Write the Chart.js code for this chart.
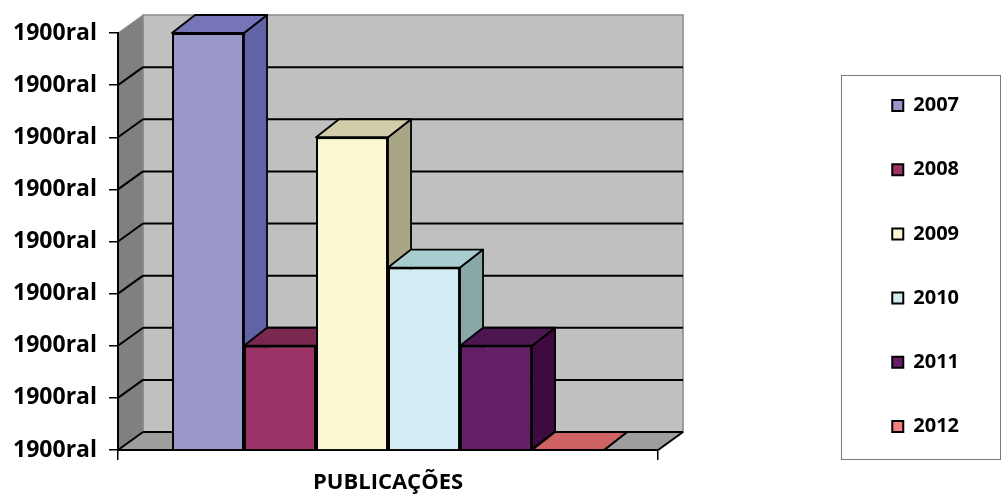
<!DOCTYPE html>
<html>
<head>
<meta charset="utf-8">
<script src="https://cdn.jsdelivr.net/npm/chart.js@4.4.1/dist/chart.umd.min.js"></script>
<style>html,body{margin:0;padding:0;background:#fff}canvas{display:block}</style>
</head>
<body>
<canvas id="c" width="1002" height="495"></canvas>
<script>
// ---- data ----
const categories = ['PUBLICAÇÕES'];
const seriesNames = ['2007', '2008', '2009', '2010', '2011', '2012'];
const seriesValues = [8, 2, 6, 3.5, 2, 0];
const yTickLabel = '1900ral';
const yMin = 0, yMax = 8, yStep = 1;

// ---- styles ----
const frontColors = ['#9A97CB', '#9B3366', '#FCF9D2', '#D3ECF4', '#661E66', '#F08080'];
const sideColors  = ['#6262A6', '#6E2248', '#A8A686', '#88A8A8', '#3E0A40', '#A85050'];
const topColors   = ['#7575B8', '#7B2850', '#D0CDA8', '#A8CCD0', '#4E1650', '#CF6262'];
const WALL_DX = 25, WALL_DY = 18, BAR_DX = 23, BAR_DY = 18;

Chart.defaults.font.family = "'Open Sans', 'DejaVu Sans', sans-serif";

function poly(ctx, pts, fill, stroke, lw) {
  ctx.beginPath();
  ctx.moveTo(pts[0][0], pts[0][1]);
  for (let i = 1; i < pts.length; i++) ctx.lineTo(pts[i][0], pts[i][1]);
  ctx.closePath();
  if (fill) { ctx.fillStyle = fill; ctx.fill(); }
  if (stroke) { ctx.strokeStyle = stroke; ctx.lineWidth = lw || 1; ctx.stroke(); }
}
function line(ctx, x1, y1, x2, y2) {
  ctx.beginPath(); ctx.moveTo(x1, y1); ctx.lineTo(x2, y2); ctx.stroke();
}

const threeD = {
  id: 'threeD',
  beforeDraw(chart) {
    const ctx = chart.ctx, a = chart.chartArea, y = chart.scales.y;
    const L = a.left, R = a.right, T = a.top, B = a.bottom;
    ctx.save();
    // back wall
    ctx.fillStyle = '#C0C0C0';
    ctx.fillRect(L + WALL_DX, T - WALL_DY, R - L, B - T);
    ctx.strokeStyle = '#8A8A8A'; ctx.lineWidth = 1.5;
    ctx.strokeRect(L + WALL_DX, T - WALL_DY, R - L, B - T);
    // left wall
    poly(ctx, [[L, T], [L + WALL_DX, T - WALL_DY], [L + WALL_DX, B - WALL_DY], [L, B]], '#808080', '#8A8A8A', 1);
    // floor
    poly(ctx, [[L, B], [L + WALL_DX, B - WALL_DY], [R + WALL_DX, B - WALL_DY], [R, B]], '#9E9E9E');
    // gridlines on back and side wall
    ctx.strokeStyle = '#000'; ctx.lineWidth = 2;
    y.ticks.forEach(t => {
      const py = y.getPixelForValue(t.value);
      if (t.value < yMax) {
        line(ctx, L + WALL_DX, py - WALL_DY, R + WALL_DX, py - WALL_DY);
        line(ctx, L, py, L + WALL_DX, py - WALL_DY);
      }
    });
    line(ctx, R, B, R + WALL_DX, B - WALL_DY);
    ctx.restore();
  },
  beforeDatasetsDraw(chart) {
    const ctx = chart.ctx;
    chart.data.datasets.forEach((ds, i) => {
      const meta = chart.getDatasetMeta(i);
      meta.data.forEach(el => {
        const p = el.getProps(['x', 'y', 'base', 'width'], true);
        const l = p.x - p.width / 2, r = p.x + p.width / 2;
        const top = Math.min(p.y, p.base), bot = Math.max(p.y, p.base);
        ctx.save();
        ctx.lineJoin = 'round';
        poly(ctx, [[r, top], [r + BAR_DX, top - BAR_DY], [r + BAR_DX, bot - BAR_DY], [r, bot]], sideColors[i], '#000', 1.8);
        poly(ctx, [[l, top], [l + BAR_DX, top - BAR_DY], [r + BAR_DX, top - BAR_DY], [r, top]], topColors[i], '#000', 1.8);
        ctx.restore();
        el.draw(ctx);
      });
    });
    return false;
  },
  afterDraw(chart) {
    const hb = chart.legend && chart.legend.legendHitBoxes;
    if (!hb || !hb.length) return;
    const ctx = chart.ctx;
    const first = hb[0], last = hb[hb.length - 1];
    const top = first.top - 21, bottom = last.top + last.height + 22;
    ctx.save();
    ctx.strokeStyle = '#7A7A7A'; ctx.lineWidth = 1;
    ctx.strokeRect(Math.round(first.left - 51) + 0.5, Math.round(top) + 0.5, 159, Math.round(bottom - top));
    ctx.restore();
  }
};

new Chart(document.getElementById('c'), {
  type: 'bar',
  data: {
    labels: categories,
    datasets: seriesNames.map((name, i) => ({
      label: name,
      data: [seriesValues[i]],
      backgroundColor: frontColors[i],
      borderColor: '#000',
      borderWidth: 2,
      barPercentage: 1.0,
      categoryPercentage: 0.8
    }))
  },
  options: {
    responsive: false,
    animation: false,
    events: [],
    layout: { padding: { top: 33, left: 0, right: 33, bottom: -4 } },
    plugins: {
      tooltip: { enabled: false },
      legend: {
        position: 'right',
        labels: {
          color: '#000',
          font: { size: 20, weight: 'bold' },
          boxWidth: 11,
          boxHeight: 11,
          padding: 44.2
        }
      }
    },
    scales: {
      x: {
        grid: { drawOnChartArea: false, drawTicks: true, tickLength: 10, color: '#000', lineWidth: 1.5 },
        border: { display: true, color: '#000', width: 2 },
        ticks: { color: '#000', padding: 10, font: { size: 22, weight: 'bold' } },
        afterFit: s => { s.height = 49; }
      },
      y: {
        min: yMin, max: yMax,
        ticks: { stepSize: yStep, color: '#000', padding: 12, font: { size: 23, weight: 'bold' }, callback: () => yTickLabel },
        grid: { drawOnChartArea: false, tickLength: 9, color: '#000', lineWidth: 1.5 },
        border: { display: true, color: '#000', width: 2 },
        afterFit: s => { s.width = 118; }
      },
      y2: {
        type: 'linear',
        position: 'right',
        grid: { display: false },
        border: { display: false },
        ticks: { display: false },
        afterFit: s => { s.width = 190; }
      }
    }
  },
  plugins: [threeD]
});
</script>
</body>
</html>
